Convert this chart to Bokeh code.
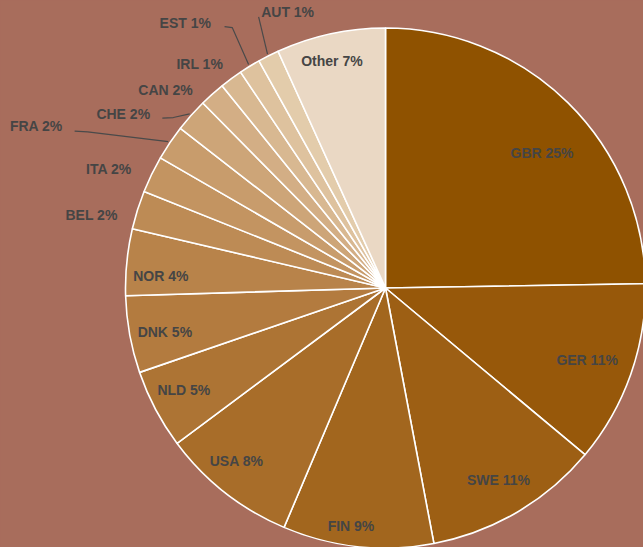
import math
from bokeh.plotting import figure
from bokeh.models import Range1d, ColumnDataSource, GlobalInlineStyleSheet
from bokeh.embed import file_html
from bokeh.resources import INLINE
from bokeh.core.properties import value

# ---- data ----
countries = ["GBR", "GER", "SWE", "FIN", "USA", "NLD", "DNK", "NOR", "BEL",
             "ITA", "FRA", "CHE", "CAN", "IRL", "EST", "AUT", "Other"]
shares = [24.74, 11.34, 10.94, 9.36, 8.42, 4.94, 4.79, 4.13, 2.39,
          2.29, 2.19, 2.07, 1.58, 1.41, 1.32, 1.31, 6.78]

# ---- styles ----
palette = ["#8f5200", "#97580a", "#9d5f14", "#a2661e", "#a86d29", "#ad7434",
           "#b37b3f", "#b8834a", "#bd8b55", "#c39461", "#c89c6c", "#cda578",
           "#d3ae85", "#d8b891", "#dec29e", "#e3ccab", "#ead8c4"]
BG = "#a86d5c"
TXT = "#454545"
R = 260.0

# label layout: (radius, angle offset from slice middle in degrees)
label_r = [207, 214, 223, 240, 228, 226, 225, 225, 303, 301, 385, 315, 296, 291, 332, 293, 233]
label_da = [4.6, 0.1, 0.0, 2.15, 2.65, 1.0, -1.0, -2.6, -3.45, -2.7, -9.05, -8.0, -6.2, -3.25, -5.6, 7.25, -1.1]
# leader lines: start/bend offsets relative to label centre (px, y down)
leaders = {
    "FRA": [(38.3, 5.3), (51.3, 6.0)],
    "CHE": [(39.1, 4.6), (50.1, 4.0)],
    "EST": [(39.3, 3.4), (47.0, 4.4)],
    "AUT": [(-29.0, 5.0)],
}

total = sum(shares)
starts, ends, mids = [], [], []
acc = 0.0
for s in shares:
    a0 = acc / total * 360.0
    acc += s
    a1 = acc / total * 360.0
    starts.append(math.radians(90 - a0))
    ends.append(math.radians(90 - a1))
    mids.append((a0 + a1) / 2)

labels = [f"{c} {round(s / total * 100)}%" for c, s in zip(countries, shares)]

def polar(r, theta_deg):
    t = math.radians(theta_deg)
    return r * math.sin(t), r * math.cos(t)

lx, ly = [], []
for i in range(len(shares)):
    x, y = polar(label_r[i], mids[i] + label_da[i])
    lx.append(x)
    ly.append(y)

src = ColumnDataSource(dict(country=countries, share=shares, start=starts,
                            end=ends, color=palette))
lsrc = ColumnDataSource(dict(x=lx, y=ly, text=labels))

# centre of pie at (385, 287.5) px from the top-left of the canvas
W, H = 643, 547
cx, cy = 385, 287.5
p = figure(width=W, height=H, output_backend="svg", toolbar_location=None,
           x_range=Range1d(-cx, W - cx), y_range=Range1d(-(H - cy), cy),
           x_axis_location=None, y_axis_location=None, min_border=0)
p.grid.visible = False
p.outline_line_color = None
p.background_fill_color = BG
p.border_fill_color = BG
p.stylesheets = [GlobalInlineStyleSheet(
    css=f"body {{ background-color: {BG}; margin: 0; overflow: hidden; }}")]

p.wedge(x=0, y=0, radius=R, start_angle="start", end_angle="end",
        direction="clock", fill_color="color", line_color="white",
        line_width=1.6, source=src)

# leader lines
xs, ys = [], []
for i, c in enumerate(countries):
    if c in leaders:
        px, py = [], []
        for dx, dy in leaders[c]:
            px.append(lx[i] + dx)
            py.append(ly[i] - dy)
        ex, ey = polar(R + 2, mids[i])
        px.append(ex)
        py.append(ey)
        xs.append(px)
        ys.append(py)
p.multi_line(xs=xs, ys=ys, line_color="#4a4a4a", line_width=1.2)

p.text(x="x", y="y", text="text", source=lsrc, text_font=value("Liberation Sans"),
       text_font_style="bold", text_font_size="14px", text_color=TXT,
       text_align="center", text_baseline="middle")

open("out.html", "w").write(file_html(p, INLINE))
